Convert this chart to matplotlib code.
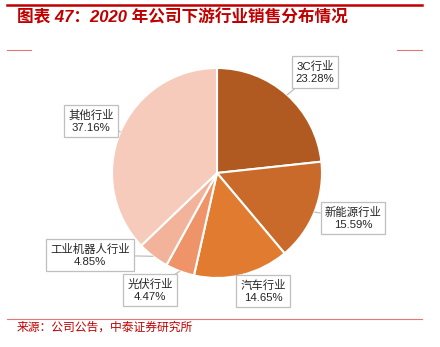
import numpy as np
import matplotlib
matplotlib.use("Agg")
import matplotlib.pyplot as plt
from matplotlib.lines import Line2D

plt.rcParams['font.family'] = ['Liberation Sans', 'Noto Sans CJK SC', 'DejaVu Sans']

# downstream industry sales share, 2020
industries = ['3C行业', '新能源行业', '汽车行业', '光伏行业', '工业机器人行业', '其他行业']
shares = [23.28, 15.59, 14.65, 4.47, 4.85, 37.16]
colors = ['#B05A22', '#C9692A', '#E07B30', '#EF9468', '#F3B39A', '#F6CBBC']
# label box centres (pixel coords, y from top)
label_pos = [(315, 72), (353, 218), (263, 291), (150, 290), (90, 255), (91, 121)]

W, H = 440, 347
fig = plt.figure(figsize=(W / 100, H / 100), dpi=100)
ax = fig.add_axes([0, 0, 1, 1])

cx, cy, r = 217, H - 173, 105
wedges, _ = ax.pie(shares, colors=colors, startangle=90, counterclock=False,
                   center=(cx, cy), radius=r, frame=True,
                   wedgeprops=dict(edgecolor='white', linewidth=1.5))
ax.set_xlim(0, W)
ax.set_ylim(0, H)
ax.set_aspect('equal')
ax.axis('off')

for w, name, val, (lx, ly) in zip(wedges, industries, shares, label_pos):
    ang = np.deg2rad((w.theta1 + w.theta2) / 2)
    px, py = cx + r * np.cos(ang), cy + r * np.sin(ang)
    ax.annotate(f'{name}\n{val:.2f}%', xy=(px, py), xytext=(lx, H - ly),
                ha='center', va='center', fontsize=8.2, color='#262626',
                linespacing=1.25,
                bbox=dict(boxstyle='square,pad=0.35', fc='white', ec='#BFBFBF', lw=0.9),
                arrowprops=dict(arrowstyle='-', color='#BFBFBF', lw=0.9,
                                shrinkA=0, shrinkB=0))

red = '#C00000'
# header and footer rules
fig.add_artist(Line2D([7 / W, 422 / W], [1 - 5 / H, 1 - 5 / H], color=red, lw=1.8))
fig.add_artist(Line2D([7 / W, 31 / W], [1 - 50 / H, 1 - 50 / H], color='#E87575', lw=0.8))
fig.add_artist(Line2D([397 / W, 422 / W], [1 - 50 / H, 1 - 50 / H], color='#E87575', lw=0.8))
fig.add_artist(Line2D([7 / W, 422 / W], [1 - 319 / H, 1 - 319 / H], color='#E87575', lw=0.8))

fig.text(17 / W, 1 - 17 / H, '图表 47：2020 年公司下游行业销售分布情况', color=red,
         fontsize=12, fontweight='bold', fontstyle='italic', ha='left', va='center')
fig.text(17 / W, 1 - 328 / H, '来源：公司公告，中泰证券研究所', color=red,
         fontsize=8.5, ha='left', va='center')

fig.savefig('out.png', dpi=100)
